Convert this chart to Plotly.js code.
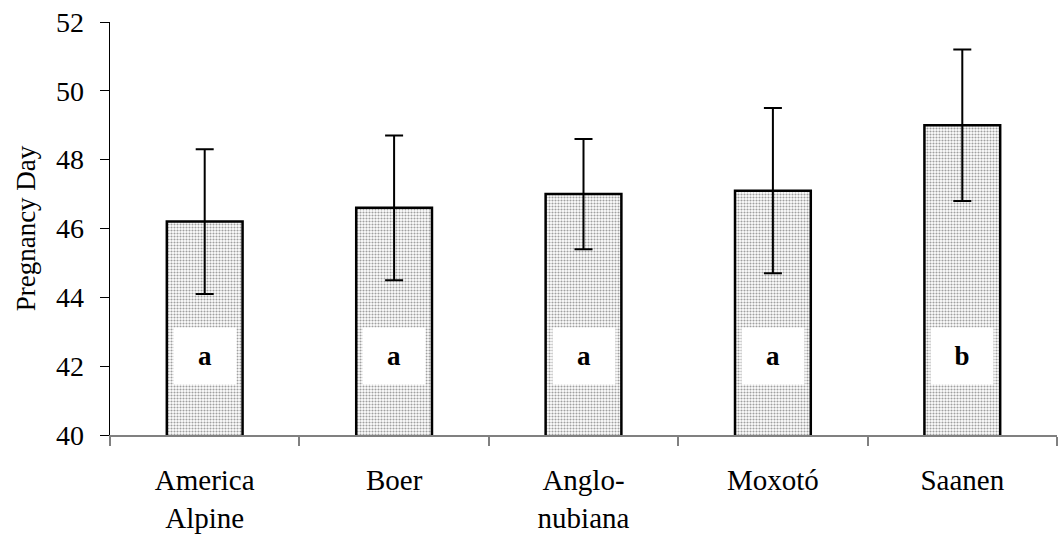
<!DOCTYPE html>
<html>
<head>
<meta charset="utf-8">
<script src="https://cdn.plot.ly/plotly-3.0.1.min.js"></script>
<style>html,body{margin:0;padding:0;background:#fff;}#chart{width:1058px;height:538px;}</style>
</head>
<body>
<div id="chart"></div>
<script>
const categories = ["America<br>Alpine", "Boer", "Anglo-<br>nubiana", "Moxotó", "Saanen"];
const meanDay = [46.2, 46.6, 47.0, 47.1, 49.0];
const errDay = [2.1, 2.1, 1.6, 2.4, 2.2];
const groupLetters = ["a", "a", "a", "a", "b"];
const yTicks = [40, 42, 44, 46, 48, 50, 52];
const letterY = 42.3;

const serif = "Liberation Serif, Times New Roman, serif";

const trace = {
  type: "bar",
  x: categories,
  y: meanDay,
  width: 0.4,
  marker: {
    color: "#ffffff",
    line: {color: "#000", width: 2.5},
    pattern: {shape: ".", fgcolor: "#a0a0a0", bgcolor: "#ffffff", size: 3, solidity: 0.4}
  },
  error_y: {type: "data", array: errDay, visible: true, color: "#000", thickness: 2, width: 9},
  hoverinfo: "skip"
};

const annotations = categories.map((c, i) => ({
  x: c, y: letterY, xref: "x", yref: "y",
  text: "<b>" + groupLetters[i] + "</b>",
  showarrow: false,
  bgcolor: "#ffffff",
  width: 60, height: 54,
  font: {family: serif, size: 27, color: "#000"}
}));

const layout = {
  width: 1058, height: 538,
  margin: {l: 110, r: 1, t: 22, b: 103},
  paper_bgcolor: "#fff", plot_bgcolor: "#fff",
  showlegend: false,
  font: {family: serif, color: "#000"},
  xaxis: {
    type: "category",
    range: [-0.5, 4.5],
    showline: true, linecolor: "#808080", linewidth: 2,
    ticks: "outside", tickson: "boundaries", ticklen: 9, tickcolor: "#808080", tickwidth: 2,
    showgrid: false, zeroline: false,
    tickfont: {family: serif, size: 29, color: "#000"},
    ticklabelstandoff: 18
  },
  yaxis: {
    range: [40, 52],
    tickvals: yTicks,
    showline: true, linecolor: "#000", linewidth: 1.5,
    ticks: "outside", ticklen: 9, tickcolor: "#000", tickwidth: 1,
    showgrid: false, zeroline: false,
    tickfont: {family: serif, size: 28, color: "#000"},
    ticklabelstandoff: 10,
    title: {text: "Pregnancy Day", font: {family: serif, size: 27, color: "#000"}, standoff: 12}
  },
  annotations: annotations
};

Plotly.newPlot("chart", [trace], layout, {displayModeBar: false, staticPlot: true});
</script>
</body>
</html>
